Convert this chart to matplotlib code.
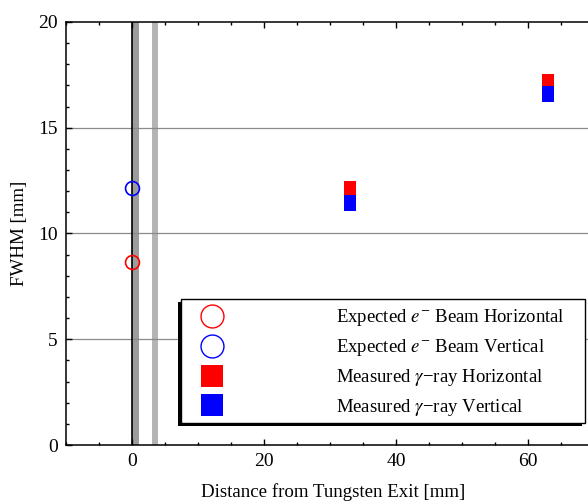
import matplotlib
matplotlib.use("Agg")
import matplotlib.pyplot as plt
from matplotlib.lines import Line2D
from matplotlib.patches import Rectangle
from matplotlib.transforms import IdentityTransform
import numpy as np

plt.rcParams['font.family'] = ['Liberation Serif', 'DejaVu Serif']
plt.rcParams['mathtext.fontset'] = 'stix'

# expected electron beam size at the tungsten exit
exp_x = [0.0]
exp_h = [8.65]
exp_v = [12.15]

# measured gamma-ray spot sizes
meas_x = [33.0, 63.0]
meas_h = [12.12, 17.15]
meas_v = [11.44, 16.58]

labels = [r"Expected $e^{-}$ Beam Horizontal",
          r"Expected $e^{-}$ Beam Vertical",
          "Measured $\\gamma$\u2212ray Horizontal",
          "Measured $\\gamma$\u2212ray Vertical"]

# tall rectangle marker used for the measured points
rect = [(-0.35, -0.5), (0.35, -0.5), (0.35, 0.5), (-0.35, 0.5), (-0.35, -0.5)]

fig = plt.figure(figsize=(5.88, 5.04), dpi=100)
ax = fig.add_axes([66/588, 59/504, 534/588, 423/504])

ax.axvspan(0, 1, color='#9c9c9c', lw=0, zorder=1)
ax.axvspan(3, 4, color='#b4b4b4', lw=0, zorder=1)
ax.axvline(0, color='k', lw=1.2, zorder=2)
for yy in [5, 10, 15]:
    ax.axhline(yy, color='#8a8a8a', lw=0.9, zorder=1.5)

ax.plot(exp_x, exp_h, 'o', mfc='none', mec='r', ms=10, mew=1.2, zorder=3)
ax.plot(exp_x, exp_v, 'o', mfc='none', mec='b', ms=10, mew=1.2, zorder=3)
ax.plot(meas_x, meas_h, ls='none', marker=rect, color='r', ms=12.2, mew=0, zorder=3)
ax.plot(meas_x, meas_v, ls='none', marker=rect, color='b', ms=12.2, mew=0, zorder=3)

ax.set_xlim(-10, 70.9)
ax.set_ylim(0, 20)
ax.set_xticks([0, 20, 40, 60])
ax.set_xticks(np.arange(-10, 71, 5), minor=True)
ax.set_yticks([0, 5, 10, 15, 20])
ax.set_yticks(np.arange(0, 21, 1), minor=True)
ax.tick_params(which='both', direction='in', top=True, right=True,
               labelsize=14, pad=6, width=1.0)
ax.tick_params(which='major', length=4.5)
ax.tick_params(which='minor', length=2.5)
for s in ax.spines.values():
    s.set_linewidth(1.1)

ax.set_xlabel("Distance from Tungsten Exit [mm]", fontsize=13.6, labelpad=9)
ax.set_ylabel("FWHM [mm]", fontsize=13.6, labelpad=7)

handles = [
    Line2D([], [], ls='none', marker='o', mfc='none', mec='r', ms=16.5, mew=1.0),
    Line2D([], [], ls='none', marker='o', mfc='none', mec='b', ms=16.5, mew=1.0),
    Line2D([], [], ls='none', marker='s', color='r', ms=16, mew=0),
    Line2D([], [], ls='none', marker='s', color='b', ms=16, mew=0),
]
leg = ax.legend(handles, labels, loc='upper left',
                bbox_to_anchor=(181/588, 1 - 299/504), bbox_transform=fig.transFigure,
                borderaxespad=0, fontsize=13.5, handlelength=2.4, handletextpad=5.4,
                borderpad=0.45, labelspacing=0.47, frameon=False)
leg.set_zorder(6)

# legend frame drawn by hand so it can be wider than the labels, with a shadow down-left
fig.canvas.draw()
bb = leg.get_window_extent()
x1 = 585
y0 = 504 - 423
frame = Rectangle((bb.x0, y0), x1 - bb.x0, bb.y1 - y0, transform=IdentityTransform(),
                  facecolor='w', edgecolor='k', lw=1.0, clip_on=False, zorder=5.8)
shadow = Rectangle((bb.x0 - 3, y0 - 3), x1 - bb.x0, bb.y1 - y0, transform=IdentityTransform(),
                   facecolor='k', edgecolor='none', clip_on=False, zorder=5.5)
ax.add_artist(shadow)
ax.add_artist(frame)

fig.savefig("out.png", dpi=100)
